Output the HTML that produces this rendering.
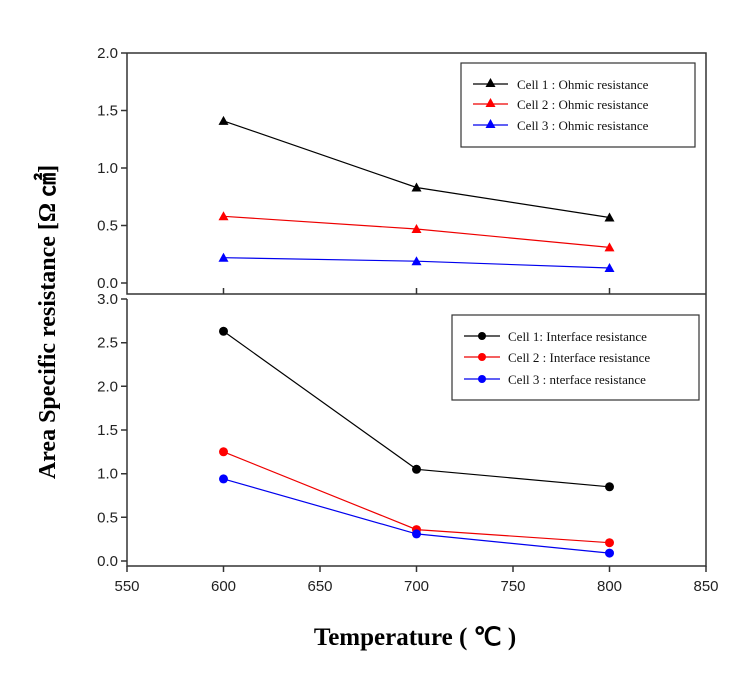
<!DOCTYPE html>
<html><head><meta charset="utf-8"><style>body{margin:0;background:#fff}svg{display:block}</style></head><body>
<svg width="754" height="677" viewBox="0 0 754 677" xmlns="http://www.w3.org/2000/svg">
<g stroke="#333" stroke-width="1.5" fill="none">
<path d="M127,53 H706 V294 M127,53 V294 H706"/>
<path d="M121,53H127 M121,110.5H127 M121,168H127 M121,225.5H127 M121,283H127"/>
<path d="M223.5,294V288 M416.5,294V288 M609.5,294V288"/>
<path d="M127,299 V566 H706 V294"/>
<path d="M121,299H127 M121,342.7H127 M121,386.3H127 M121,430H127 M121,473.7H127 M121,517.3H127 M121,561H127"/>
<path d="M127,566V572 M223.5,566V572 M320,566V572 M416.5,566V572 M513,566V572 M609.5,566V572 M706,566V572"/>
</g>
<g font-family="Liberation Sans, sans-serif" font-size="15" fill="#222" text-anchor="end">
<text x="118" y="58">2.0</text><text x="118" y="115.5">1.5</text><text x="118" y="173">1.0</text><text x="118" y="230.5">0.5</text><text x="118" y="288">0.0</text>
<text x="118" y="304">3.0</text><text x="118" y="347.7">2.5</text><text x="118" y="391.3">2.0</text><text x="118" y="435">1.5</text><text x="118" y="478.7">1.0</text><text x="118" y="522.3">0.5</text><text x="118" y="566">0.0</text>
</g>
<g font-family="Liberation Sans, sans-serif" font-size="15" fill="#222" text-anchor="middle">
<text x="127" y="591">550</text><text x="223.5" y="591">600</text><text x="320" y="591">650</text><text x="416.5" y="591">700</text><text x="513" y="591">750</text><text x="609.5" y="591">800</text><text x="706" y="591">850</text>
</g>
<g stroke-width="1.2" fill="none">
<polyline stroke="#000" points="223.5,120.9 416.5,187.5 609.5,217.5"/>
<polyline stroke="#e00" points="223.5,216.3 416.5,229 609.5,247.4"/>
<polyline stroke="#00e" points="223.5,257.7 416.5,261.2 609.5,268"/>
</g>
<defs><path id="t" d="M0,-5 L5,4 L-5,4Z"/></defs>
<g fill="#000"><use href="#t" x="223.5" y="120.9"/><use href="#t" x="416.5" y="187.5"/><use href="#t" x="609.5" y="217.5"/></g>
<g fill="#f00"><use href="#t" x="223.5" y="216.3"/><use href="#t" x="416.5" y="229"/><use href="#t" x="609.5" y="247.4"/></g>
<g fill="#00f"><use href="#t" x="223.5" y="257.7"/><use href="#t" x="416.5" y="261.2"/><use href="#t" x="609.5" y="268"/></g>
<g stroke-width="1.2" fill="none">
<polyline stroke="#000" points="223.5,331.3 416.5,469.3 609.5,486.8"/>
<polyline stroke="#e00" points="223.5,451.8 416.5,529.6 609.5,542.7"/>
<polyline stroke="#00e" points="223.5,478.9 416.5,533.9 609.5,553.1"/>
</g>
<g fill="#000"><circle cx="223.5" cy="331.3" r="4.5"/><circle cx="416.5" cy="469.3" r="4.5"/><circle cx="609.5" cy="486.8" r="4.5"/></g>
<g fill="#f00"><circle cx="223.5" cy="451.8" r="4.5"/><circle cx="416.5" cy="529.6" r="4.5"/><circle cx="609.5" cy="542.7" r="4.5"/></g>
<g fill="#00f"><circle cx="223.5" cy="478.9" r="4.5"/><circle cx="416.5" cy="533.9" r="4.5"/><circle cx="609.5" cy="553.1" r="4.5"/></g>
<rect x="461" y="63" width="234" height="84" fill="#fff" stroke="#333" stroke-width="1.2"/>
<g stroke-width="1.2"><path d="M473,84H508" stroke="#000"/><path d="M473,104H508" stroke="#e00"/><path d="M473,125H508" stroke="#00e"/></g>
<use href="#t" x="490.5" y="83" fill="#000"/><use href="#t" x="490.5" y="103" fill="#f00"/><use href="#t" x="490.5" y="124" fill="#00f"/>
<g font-family="Liberation Serif, serif" font-size="13" fill="#111">
<text x="517" y="89">Cell 1 : Ohmic resistance</text><text x="517" y="109">Cell 2 : Ohmic resistance</text><text x="517" y="130">Cell 3 : Ohmic resistance</text>
</g>
<rect x="452" y="315" width="247" height="85" fill="#fff" stroke="#333" stroke-width="1.2"/>
<g stroke-width="1.2"><path d="M464,336H500" stroke="#000"/><path d="M464,357H500" stroke="#e00"/><path d="M464,379H500" stroke="#00e"/></g>
<circle cx="482" cy="336" r="4" fill="#000"/><circle cx="482" cy="357" r="4" fill="#f00"/><circle cx="482" cy="379" r="4" fill="#00f"/>
<g font-family="Liberation Serif, serif" font-size="13" fill="#111">
<text x="508" y="341">Cell 1: Interface resistance</text><text x="508" y="362">Cell 2 : Interface resistance</text><text x="508" y="384">Cell 3 : nterface resistance</text>
</g>
<text x="415" y="645" font-family="Liberation Serif, serif" font-weight="bold" font-size="25" text-anchor="middle" fill="#000">Temperature ( ℃ )</text>
<text transform="translate(55,322) rotate(-90)" font-family="Liberation Serif, serif" font-weight="bold" font-size="24" text-anchor="middle" fill="#000">Area Specific resistance [Ω  ㎠]</text>
</svg>
</body></html>
